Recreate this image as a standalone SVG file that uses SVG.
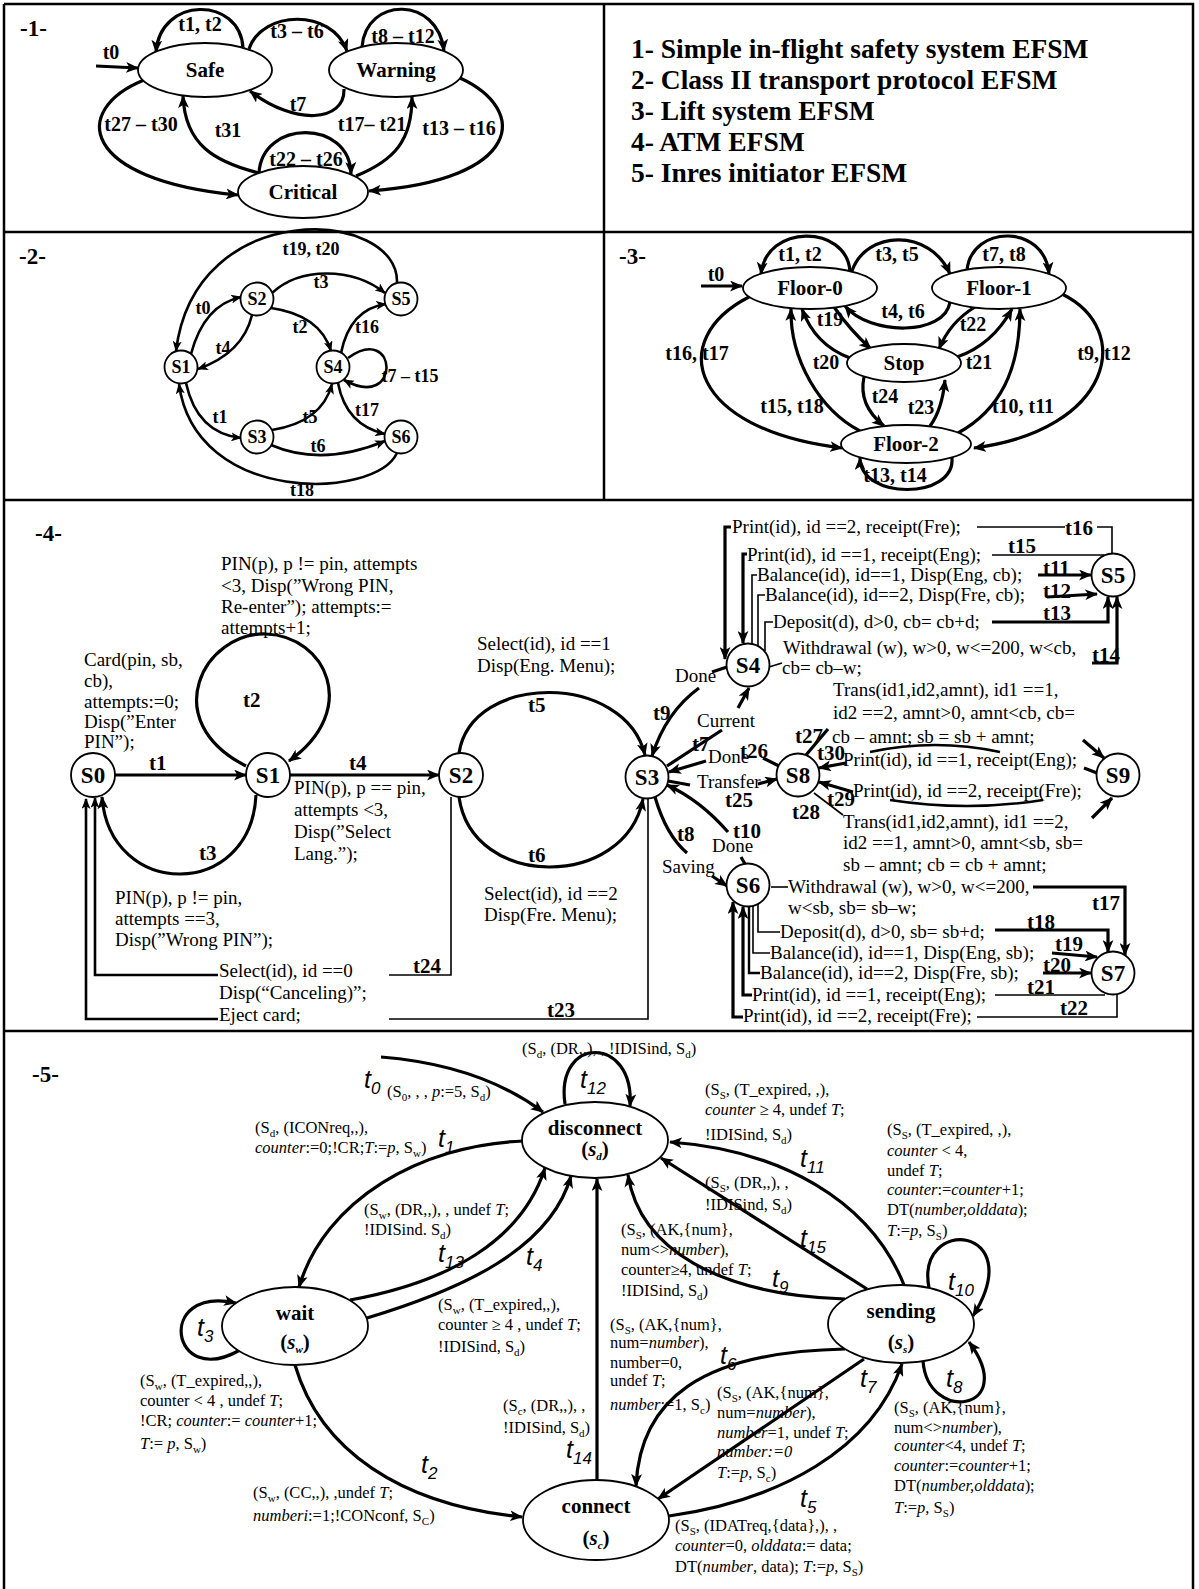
<svg xmlns="http://www.w3.org/2000/svg" width="1199" height="1589" viewBox="0 0 1199 1589">
<defs>
<marker id="a" viewBox="0 0 12 10" refX="11" refY="5" markerWidth="13" markerHeight="11" markerUnits="userSpaceOnUse" orient="auto"><path d="M0,0 L12,5 L0,10 L3,5 z"/></marker>
<marker id="a2" viewBox="0 0 12 10" refX="11" refY="5" markerWidth="11" markerHeight="9" markerUnits="userSpaceOnUse" orient="auto"><path d="M0,0 L12,5 L0,10 L3,5 z"/></marker>
</defs>
<style>
text{font-family:"Liberation Serif","Times New Roman",serif;fill:#000}
.fr{fill:none;stroke:#000;stroke-width:2.5}
.nd{fill:#fff;stroke:#000;stroke-width:1.8}
.e{fill:none;stroke:#000;stroke-width:3.2;marker-end:url(#a)}
.e2{fill:none;stroke:#000;stroke-width:2.6;marker-end:url(#a2)}
.en{fill:none;stroke:#000;stroke-width:3.2}
.th{fill:none;stroke:#000;stroke-width:1.6}
.pn{font-weight:bold;font-size:23px}
.lg{font-weight:bold;font-size:27.5px}
.nb{font-weight:bold;font-size:21px;text-anchor:middle}
.nb4{font-weight:bold;font-size:23px;text-anchor:middle}
.lb{font-weight:bold;font-size:20px;text-anchor:middle}
.l4{font-weight:bold;font-size:21px}
.l2{font-weight:bold;font-size:18px;text-anchor:middle}
.n2{font-weight:bold;font-size:18px;text-anchor:middle}
.t4{font-size:19px}
.t5{font-size:16.5px}
.ti{font-family:"Liberation Sans",Arial,sans-serif;font-style:italic;font-size:25px}
.ts{font-size:17px;baseline-shift:-6px}
.sb{font-size:11px;baseline-shift:-4px}
.i{font-style:italic}
.bi{font-style:italic}
</style>
<rect width="1199" height="1589" fill="#fff"/>
<g id="frame">
<path class="fr" d="M4,4 H1193 V1589 M4,4 V1589 M4,232 H1193 M4,500 H1193 M4,1031 H1193 M604,4 V500"/>
</g>

<!-- PANEL 1 -->
<g id="panel1-title"><text class="pn" x="20" y="36">-1-</text></g>
<g id="legend">
<text class="lg" x="631" y="58">1- Simple in-flight safety system EFSM</text>
<text class="lg" x="631" y="89">2- Class II transport protocol EFSM</text>
<text class="lg" x="631" y="120">3- Lift system EFSM</text>
<text class="lg" x="631" y="151">4- ATM EFSM</text>
<text class="lg" x="631" y="182">5- Inres initiator EFSM</text>
</g>
<g id="p1-connectors">
<path class="e" d="M96,66 L138,68"/>
<path class="e" d="M243,48 C240,-4 160,-4 156,52"/>
<path class="e" d="M249,49 C262,10 332,8 347,51"/>
<path class="e" d="M362,47 C366,-4 438,-4 444,51"/>
<path class="e" d="M344,89 C345,122 295,126 250,91"/>
<path class="e" d="M144,80 C70,110 80,180 238,195"/>
<path class="e" d="M259,173 C215,162 185,145 183,96"/>
<path class="e" d="M259,173 C262,119 350,119 351,174"/>
<path class="e" d="M356,176 C395,160 412,140 412,97"/>
<path class="e" d="M460,78 C530,110 522,180 369,191"/>
<text class="lb" x="111" y="59">t0</text>
<text class="lb" x="200" y="31">t1, t2</text>
<text class="lb" x="297" y="38">t3 – t6</text>
<text class="lb" x="403" y="43">t8 – t12</text>
<text class="lb" x="298" y="111">t7</text>
<text class="lb" x="141" y="131">t27 – t30</text>
<text class="lb" x="228" y="137">t31</text>
<text class="lb" x="306" y="166">t22 – t26</text>
<text class="lb" x="372" y="131">t17– t21</text>
<text class="lb" x="459" y="135">t13 – t16</text>
</g>
<g id="p1-safe"><ellipse class="nd" cx="205" cy="70" rx="67" ry="27"/><text class="nb" x="205" y="77">Safe</text></g>
<g id="p1-warning"><ellipse class="nd" cx="396" cy="70" rx="67" ry="27"/><text class="nb" x="396" y="77">Warning</text></g>
<g id="p1-critical"><ellipse class="nd" cx="303" cy="192" rx="65" ry="26"/><text class="nb" x="303" y="199">Critical</text></g>

<!-- PANEL 2 -->
<g id="panel2-title"><text class="pn" x="19" y="264">-2-</text></g>
<g id="p2-connectors">
<path class="e2" d="M397,283 C400,209 195,195 176,351"/>
<path class="e2" d="M272,293 C300,267 352,267 385,293"/>
<path class="e2" d="M191,354 Q204,305 241,297"/>
<path class="e2" d="M252,315 Q243,353 198,369"/>
<path class="e2" d="M271,308 Q320,315 331,351"/>
<path class="e2" d="M341,353 Q350,309 386,304"/>
<path class="e2" d="M348,358 C398,322 402,412 344,380"/>
<path class="e2" d="M186,383 Q197,433 241,438"/>
<path class="e2" d="M272,430 Q322,422 332,384"/>
<path class="e2" d="M338,383 Q346,425 385,434"/>
<path class="e2" d="M271,445 Q322,467 385,441"/>
<path class="e2" d="M397,453 C375,500 195,505 179,384"/>
<text class="l2" x="311" y="255">t19, t20</text>
<text class="l2" x="321" y="288">t3</text>
<text class="l2" x="203" y="314">t0</text>
<text class="l2" x="223" y="354">t4</text>
<text class="l2" x="300" y="333">t2</text>
<text class="l2" x="367" y="333">t16</text>
<text class="l2" x="410" y="382">t7 – t15</text>
<text class="l2" x="220" y="423">t1</text>
<text class="l2" x="310" y="423">t5</text>
<text class="l2" x="367" y="416">t17</text>
<text class="l2" x="318" y="452">t6</text>
<text class="l2" x="302" y="496">t18</text>
</g>
<g id="p2-S1"><circle class="nd" cx="181" cy="367" r="16.5"/><text class="n2" x="181" y="373">S1</text></g>
<g id="p2-S2"><circle class="nd" cx="257" cy="299" r="16.5"/><text class="n2" x="257" y="305">S2</text></g>
<g id="p2-S3"><circle class="nd" cx="257" cy="437" r="16.5"/><text class="n2" x="257" y="443">S3</text></g>
<g id="p2-S4"><circle class="nd" cx="333" cy="367" r="16.5"/><text class="n2" x="333" y="373">S4</text></g>
<g id="p2-S5"><circle class="nd" cx="401" cy="299" r="16.5"/><text class="n2" x="401" y="305">S5</text></g>
<g id="p2-S6"><circle class="nd" cx="401" cy="437" r="16.5"/><text class="n2" x="401" y="443">S6</text></g>

<!-- PANEL 3 -->
<g id="panel3-title"><text class="pn" x="619" y="264">-3-</text></g>
<g id="p3-connectors">
<path class="e" d="M701,286 L742,286"/>
<path class="e" d="M850,271 C846,224 766,224 761,274"/>
<path class="e" d="M852,271 C866,230 930,228 950,274"/>
<path class="e" d="M967,270 C972,224 1045,224 1049,274"/>
<path class="e" d="M950,302 C945,336 870,336 845,306"/>
<path class="e" d="M834,307 Q850,330 871,349"/>
<path class="e" d="M850,358 Q815,345 802,309"/>
<path class="e" d="M860,431 C820,410 790,360 791,309"/>
<path class="e" d="M975,307 Q950,322 939,349"/>
<path class="e" d="M957,357 Q992,345 1012,309"/>
<path class="e" d="M958,433 C1000,410 1020,370 1020,309"/>
<path class="e" d="M749,297 C665,340 690,430 842,448"/>
<path class="e" d="M1062,294 C1135,330 1112,430 974,448"/>
<path class="e" d="M864,377 Q858,405 884,426"/>
<path class="e" d="M930,426 Q942,410 945,380"/>
<path class="e" d="M952,458 C955,500 860,500 860,458"/>
<text class="lb" x="716" y="281">t0</text>
<text class="lb" x="800" y="261">t1, t2</text>
<text class="lb" x="897" y="261">t3, t5</text>
<text class="lb" x="1004" y="261">t7, t8</text>
<text class="lb" x="903" y="318">t4, t6</text>
<text class="lb" x="830" y="326">t19</text>
<text class="lb" x="826" y="369">t20</text>
<text class="lb" x="792" y="413">t15, t18</text>
<text class="lb" x="973" y="331">t22</text>
<text class="lb" x="979" y="369">t21</text>
<text class="lb" x="1023" y="413">t10, t11</text>
<text class="lb" x="697" y="360">t16, t17</text>
<text class="lb" x="1104" y="360">t9, t12</text>
<text class="lb" x="885" y="403">t24</text>
<text class="lb" x="921" y="414">t23</text>
<text class="lb" x="895" y="482">t13, t14</text>
</g>
<g id="p3-floor0"><ellipse class="nd" cx="810" cy="288" rx="67" ry="21"/><text class="nb" x="810" y="295">Floor-0</text></g>
<g id="p3-floor1"><ellipse class="nd" cx="999" cy="288" rx="67" ry="21"/><text class="nb" x="999" y="295">Floor-1</text></g>
<g id="p3-stop"><ellipse class="nd" cx="904" cy="363" rx="57" ry="19"/><text class="nb" x="904" y="370">Stop</text></g>
<g id="p3-floor2"><ellipse class="nd" cx="906" cy="444" rx="65" ry="19"/><text class="nb" x="906" y="451">Floor-2</text></g>

<!-- PANEL 4 -->
<g id="panel4-title"><text class="pn" x="35" y="541">-4-</text></g>
<g id="p4-connectors">
<path class="e" d="M115,775 L246,775"/>
<path class="e" d="M246,766 C156,720 205,632 266,634 C326,636 361,710 289,761"/>
<path class="e" d="M256,795 C251,900 110,900 102,797"/>
<path class="e" d="M290,775 L439,775"/>
<path class="e" d="M459,753 C472,672 625,672 645,755"/>
<path class="e" d="M459,797 C472,890 625,890 643,799"/>
<path class="th" d="M451,797 V975 H389"/>
<path class="th" d="M648,799 V1019 H389"/>
<path class="e2" d="M218,975 H95 V798"/>
<path class="e2" d="M218,1019 H86 V799"/>
<!-- S3 area -->
<path class="en" d="M712,672 L727,667"/>
<path class="e" d="M699,688 Q666,712 652,756"/>
<path class="en" d="M667,766 L722,730"/>
<path class="e" d="M738,708 L749,688"/>
<path class="en" d="M763,758 L779,766"/>
<path class="e" d="M706,761 L669,772"/>
<path class="en" d="M668,781 L690,785"/>
<path class="e" d="M758,784 L777,779"/>
<path class="e" d="M728,832 Q700,800 667,785"/>
<path class="en" d="M741,857 L745,864"/>
<path class="en" d="M655,797 Q666,835 687,853"/>
<path class="e" d="M712,876 L727,886"/>
<!-- S4 / S5 -->
<path class="e" d="M731,527 H725 V659"/>
<path class="th" d="M977,527 H1065 M1097,527 H1112 V554"/>
<path class="e" d="M747,554 H743 V643"/>
<path class="th" d="M992,555 H1104"/>
<path class="th" d="M757,575 H752 V644"/>
<path class="e" d="M1038,575 H1091"/>
<path class="th" d="M765,595 H758 V646"/>
<path class="e" d="M1047,597 L1097,594"/>
<path class="th" d="M773,622 H765 V651"/>
<path class="e" d="M992,622 H1108 V597"/>
<path class="th" d="M769,667 L782,663"/>
<path class="e" d="M1092,663 H1117 V597"/>
<!-- S8 / S9 -->
<path class="en" d="M806,755 L828,729"/>
<path class="e" d="M1083,740 L1104,758"/>
<path class="th" d="M814,793 L843,815"/>
<path class="e" d="M1092,818 L1112,798"/>
<path class="e" d="M853,792 L819,782"/>
<path class="th" style="stroke-width:2.4" d="M890,800 Q967,812 1043,800"/>
<path class="e" d="M846,763 L819,768"/>
<path class="th" style="stroke-width:2.4" d="M870,752 Q935,738 1000,752"/>
<path class="en" d="M1097,773 L1084,768"/>
<!-- S6 / S7 -->
<path class="th" d="M771,887 H788"/>
<path class="e" d="M1033,887 H1125 V955"/>
<path class="th" d="M758,904 V932 H780"/>
<path class="e" d="M995,930 H1108 V952"/>
<path class="th" d="M753,906 V953 H770"/>
<path class="e" d="M1052,953 L1097,957"/>
<path class="th" style="stroke-width:2.4" d="M749,907 V973 H760"/>
<path class="e" d="M1043,973 H1091"/>
<path class="e" d="M752,995 H743 V907"/>
<path class="th" d="M995,995 H1105"/>
<path class="e" d="M743,1017 H733 V902"/>
<path class="th" d="M977,1017 H1117 V995"/>
<!-- edge labels -->
<text class="l4" x="149" y="770">t1</text>
<text class="l4" x="243" y="707">t2</text>
<text class="l4" x="199" y="860">t3</text>
<text class="l4" x="349" y="770">t4</text>
<text class="l4" x="528" y="712">t5</text>
<text class="l4" x="528" y="862">t6</text>
<text class="l4" x="413" y="973">t24</text>
<text class="l4" x="547" y="1017">t23</text>
<text class="l4" x="653" y="720">t9</text>
<text class="l4" x="692" y="751">t7</text>
<text class="l4" x="677" y="841">t8</text>
<text class="l4" x="733" y="838">t10</text>
<text class="l4" x="740" y="758">t26</text>
<text class="l4" x="725" y="807">t25</text>
<text class="l4" x="1065" y="535">t16</text>
<text class="l4" x="1008" y="553">t15</text>
<text class="l4" x="1043" y="575">t11</text>
<text class="l4" x="1043" y="598">t12</text>
<text class="l4" x="1043" y="620">t13</text>
<text class="l4" x="1092" y="662">t14</text>
<text class="l4" x="795" y="743">t27</text>
<text class="l4" x="817" y="760">t30</text>
<text class="l4" x="827" y="806">t29</text>
<text class="l4" x="792" y="819">t28</text>
<text class="l4" x="1092" y="910">t17</text>
<text class="l4" x="1027" y="929">t18</text>
<text class="l4" x="1055" y="951">t19</text>
<text class="l4" x="1043" y="972">t20</text>
<text class="l4" x="1027" y="994">t21</text>
<text class="l4" x="1060" y="1015">t22</text>
</g>
<g id="p4-texts">
<text class="t4"><tspan x="221" y="570">PIN(p), p != pin, attempts</tspan><tspan x="221" y="592">&lt;3, Disp(”Wrong PIN,</tspan><tspan x="221" y="613">Re-enter”); attempts:=</tspan><tspan x="221" y="634">attempts+1;</tspan></text>
<text class="t4"><tspan x="84" y="666">Card(pin, sb,</tspan><tspan x="84" y="687">cb),</tspan><tspan x="84" y="708">attempts:=0;</tspan><tspan x="84" y="728">Disp(”Enter</tspan><tspan x="84" y="748">PIN”);</tspan></text>
<text class="t4"><tspan x="294" y="794">PIN(p), p == pin,</tspan><tspan x="294" y="816">attempts &lt;3,</tspan><tspan x="294" y="838">Disp(”Select</tspan><tspan x="294" y="860">Lang.”);</tspan></text>
<text class="t4"><tspan x="115" y="904">PIN(p), p != pin,</tspan><tspan x="115" y="925">attempts ==3,</tspan><tspan x="115" y="946">Disp(”Wrong PIN”);</tspan></text>
<text class="t4"><tspan x="219" y="977">Select(id), id ==0</tspan><tspan x="219" y="999">Disp(“Canceling)”;</tspan><tspan x="219" y="1021">Eject card;</tspan></text>
<text class="t4"><tspan x="477" y="650">Select(id), id ==1</tspan><tspan x="477" y="672">Disp(Eng. Menu);</tspan></text>
<text class="t4"><tspan x="484" y="900">Select(id), id ==2</tspan><tspan x="484" y="921">Disp(Fre. Menu);</tspan></text>
<text class="t4" x="675" y="682">Done</text>
<text class="t4" x="697" y="727">Current</text>
<text class="t4" x="708" y="763">Done</text>
<text class="t4" x="697" y="788">Transfer</text>
<text class="t4" x="712" y="852">Done</text>
<text class="t4" x="662" y="873">Saving</text>
<text class="t4" x="732" y="533">Print(id), id ==2, receipt(Fre);</text>
<text class="t4" x="747" y="561">Print(id), id ==1, receipt(Eng);</text>
<text class="t4" x="757" y="581">Balance(id), id==1, Disp(Eng, cb);</text>
<text class="t4" x="765" y="601">Balance(id), id==2, Disp(Fre, cb);</text>
<text class="t4" x="773" y="628">Deposit(d), d&gt;0, cb= cb+d;</text>
<text class="t4" x="783" y="654">Withdrawal (w), w&gt;0, w&lt;=200, w&lt;cb,</text>
<text class="t4" x="782" y="674">cb= cb–w;</text>
<text class="t4"><tspan x="833" y="696">Trans(id1,id2,amnt), id1 ==1,</tspan><tspan x="833" y="719">id2 ==2, amnt&gt;0, amnt&lt;cb, cb=</tspan><tspan x="832" y="743">cb – amnt; sb = sb + amnt;</tspan></text>
<text class="t4" x="843" y="766">Print(id), id ==1, receipt(Eng);</text>
<text class="t4" x="853" y="797">Print(id), id ==2, receipt(Fre);</text>
<text class="t4"><tspan x="843" y="828">Trans(id1,id2,amnt), id1 ==2,</tspan><tspan x="843" y="849">id2 ==1, amnt&gt;0, amnt&lt;sb, sb=</tspan><tspan x="843" y="871">sb – amnt; cb = cb + amnt;</tspan></text>
<text class="t4"><tspan x="788" y="893">Withdrawal (w), w&gt;0, w&lt;=200,</tspan><tspan x="788" y="914">w&lt;sb, sb= sb–w;</tspan></text>
<text class="t4" x="780" y="938">Deposit(d), d&gt;0, sb= sb+d;</text>
<text class="t4" x="770" y="959">Balance(id), id==1, Disp(Eng, sb);</text>
<text class="t4" x="760" y="979">Balance(id), id==2, Disp(Fre, sb);</text>
<text class="t4" x="752" y="1001">Print(id), id ==1, receipt(Eng);</text>
<text class="t4" x="743" y="1022">Print(id), id ==2, receipt(Fre);</text>
</g>
<g id="p4-S0"><circle class="nd" cx="93" cy="775" r="22"/><text class="nb4" x="93" y="783">S0</text></g>
<g id="p4-S1"><circle class="nd" cx="268" cy="775" r="22"/><text class="nb4" x="268" y="783">S1</text></g>
<g id="p4-S2"><circle class="nd" cx="461" cy="775" r="22"/><text class="nb4" x="461" y="783">S2</text></g>
<g id="p4-S3"><circle class="nd" cx="647" cy="777" r="21.5"/><text class="nb4" x="647" y="785">S3</text></g>
<g id="p4-S4"><circle class="nd" cx="748" cy="665" r="21.5"/><text class="nb4" x="748" y="673">S4</text></g>
<g id="p4-S5"><circle class="nd" cx="1113" cy="575" r="21.5"/><text class="nb4" x="1113" y="583">S5</text></g>
<g id="p4-S8"><circle class="nd" cx="798" cy="775" r="21.5"/><text class="nb4" x="798" y="783">S8</text></g>
<g id="p4-S9"><circle class="nd" cx="1118" cy="775" r="21.5"/><text class="nb4" x="1118" y="783">S9</text></g>
<g id="p4-S6"><circle class="nd" cx="748" cy="885" r="21.5"/><text class="nb4" x="748" y="893">S6</text></g>
<g id="p4-S7"><circle class="nd" cx="1113" cy="973" r="21.5"/><text class="nb4" x="1113" y="981">S7</text></g>

<!-- PANEL 5 -->
<g id="panel5-title"><text class="pn" x="32" y="1082">-5-</text></g>
<g id="p5-connectors">
<path class="e" d="M381,1057 Q480,1065 543,1112"/>
<path class="e" d="M565,1104 C555,1035 635,1035 630,1106"/>
<path class="e" d="M523,1141 C420,1145 325,1200 299,1287"/>
<path class="e" d="M350,1300 C450,1282 522,1240 545,1168"/>
<path class="e" d="M367,1318 C460,1290 550,1250 571,1176"/>
<path class="e" d="M240,1350 C170,1390 155,1285 236,1303"/>
<path class="e" d="M295,1365 C320,1450 400,1505 522,1517"/>
<path class="e" d="M597,1480 L597,1179"/>
<path class="e" d="M904,1285 C870,1200 780,1150 670,1142"/>
<path class="e" d="M867,1289 L661,1158"/>
<path class="e" d="M845,1299 C720,1295 640,1250 628,1175"/>
<path class="e" d="M929,1288 C915,1215 1030,1225 973,1316"/>
<path class="e" d="M923,1361 C928,1425 1020,1410 969,1342"/>
<path class="e" d="M845,1349 C700,1352 640,1400 636,1486"/>
<path class="e" d="M864,1359 L658,1499"/>
<path class="e" d="M669,1516 C780,1500 872,1450 902,1364"/>
<text class="ti" x="364" y="1088">t<tspan class="ts">0</tspan></text>
<text class="ti" x="580" y="1088">t<tspan class="ts">12</tspan></text>
<text class="ti" x="438" y="1147">t<tspan class="ts">1</tspan></text>
<text class="ti" x="438" y="1262">t<tspan class="ts">13</tspan></text>
<text class="ti" x="526" y="1265">t<tspan class="ts">4</tspan></text>
<text class="ti" x="197" y="1336">t<tspan class="ts">3</tspan></text>
<text class="ti" x="421" y="1473">t<tspan class="ts">2</tspan></text>
<text class="ti" x="566" y="1458">t<tspan class="ts">14</tspan></text>
<text class="ti" x="800" y="1167">t<tspan class="ts">11</tspan></text>
<text class="ti" x="800" y="1247">t<tspan class="ts">15</tspan></text>
<text class="ti" x="772" y="1287">t<tspan class="ts">9</tspan></text>
<text class="ti" x="948" y="1290">t<tspan class="ts">10</tspan></text>
<text class="ti" x="720" y="1364">t<tspan class="ts">6</tspan></text>
<text class="ti" x="860" y="1387">t<tspan class="ts">7</tspan></text>
<text class="ti" x="946" y="1387">t<tspan class="ts">8</tspan></text>
<text class="ti" x="800" y="1507">t<tspan class="ts">5</tspan></text>
</g>
<g id="p5-texts">
<text class="t5" x="522" y="1054">(S<tspan class="sb">d</tspan>, (DR,,), , !IDISind, S<tspan class="sb">d</tspan>)</text>
<text class="t5" x="387" y="1097">(S<tspan class="sb">0</tspan>, , , <tspan class="i">p</tspan>:=5, S<tspan class="sb">d</tspan>)</text>
<text class="t5" x="255" y="1133">(S<tspan class="sb">d</tspan>, (ICONreq,,),</text>
<text class="t5" x="255" y="1153"><tspan class="i">counter</tspan>:=0;!CR;<tspan class="i">T</tspan>:=<tspan class="i">p</tspan>, S<tspan class="sb">w</tspan>)</text>
<text class="t5" x="364" y="1215">(S<tspan class="sb">w</tspan>, (DR,,), , undef <tspan class="i">T</tspan>;</text>
<text class="t5" x="364" y="1235">!IDISind. S<tspan class="sb">d</tspan>)</text>
<text class="t5" x="438" y="1310">(S<tspan class="sb">w</tspan>, (T_expired,,),</text>
<text class="t5" x="438" y="1330">counter ≥ 4 , undef <tspan class="i">T</tspan>;</text>
<text class="t5" x="438" y="1352">!IDISind, S<tspan class="sb">d</tspan>)</text>
<text class="t5" x="140" y="1386">(S<tspan class="sb">w</tspan>, (T_expired,,),</text>
<text class="t5" x="140" y="1406">counter &lt; 4 , undef <tspan class="i">T</tspan>;</text>
<text class="t5" x="140" y="1426">!CR; <tspan class="i">counter</tspan>:= <tspan class="i">counter</tspan>+1;</text>
<text class="t5" x="140" y="1449"><tspan class="i">T</tspan>:= <tspan class="i">p</tspan>, S<tspan class="sb">w</tspan>)</text>
<text class="t5" x="253" y="1498">(S<tspan class="sb">w</tspan>, (CC,,), ,undef <tspan class="i">T</tspan>;</text>
<text class="t5" x="253" y="1521"><tspan class="i">numberi</tspan>:=1;!CONconf, S<tspan class="sb">C</tspan>)</text>
<text class="t5" x="503" y="1411">(S<tspan class="sb">c</tspan>, (DR,,), ,</text>
<text class="t5" x="503" y="1433">!IDISind, S<tspan class="sb">d</tspan>)</text>
<text class="t5" x="705" y="1095">(S<tspan class="sb">S</tspan>, (T_expired, ,),</text>
<text class="t5" x="705" y="1115"><tspan class="i">counter</tspan> ≥ 4, undef <tspan class="i">T</tspan>;</text>
<text class="t5" x="705" y="1140">!IDISind, S<tspan class="sb">d</tspan>)</text>
<text class="t5" x="705" y="1188">(S<tspan class="sb">S</tspan>, (DR,,), ,</text>
<text class="t5" x="705" y="1210">!IDISind, S<tspan class="sb">d</tspan>)</text>
<text class="t5" x="621" y="1235">(S<tspan class="sb">S</tspan>, (AK,{num},</text>
<text class="t5" x="621" y="1255">num&lt;&gt;<tspan class="i">number</tspan>),</text>
<text class="t5" x="621" y="1275">counter≥4, undef <tspan class="i">T</tspan>;</text>
<text class="t5" x="621" y="1296">!IDISind, S<tspan class="sb">d</tspan>)</text>
<text class="t5" x="887" y="1135">(S<tspan class="sb">S</tspan>, (T_expired, ,),</text>
<text class="t5" x="887" y="1156"><tspan class="i">counter</tspan> &lt; 4,</text>
<text class="t5" x="887" y="1176">undef <tspan class="i">T</tspan>;</text>
<text class="t5" x="887" y="1195"><tspan class="i">counter</tspan>:=<tspan class="i">counter</tspan>+1;</text>
<text class="t5" x="887" y="1215">DT(<tspan class="i">number,olddata</tspan>);</text>
<text class="t5" x="887" y="1236"><tspan class="i">T</tspan>:=<tspan class="i">p</tspan>, S<tspan class="sb">S</tspan>)</text>
<text class="t5" x="894" y="1413">(S<tspan class="sb">S</tspan>, (AK,{num},</text>
<text class="t5" x="894" y="1433">num&lt;&gt;<tspan class="i">number</tspan>),</text>
<text class="t5" x="894" y="1451"><tspan class="i">counter</tspan>&lt;4, undef <tspan class="i">T</tspan>;</text>
<text class="t5" x="894" y="1471"><tspan class="i">counter</tspan>:=<tspan class="i">counter</tspan>+1;</text>
<text class="t5" x="894" y="1491">DT(<tspan class="i">number,olddata</tspan>);</text>
<text class="t5" x="894" y="1513"><tspan class="i">T</tspan>:=<tspan class="i">p</tspan>, S<tspan class="sb">S</tspan>)</text>
<text class="t5" x="610" y="1330">(S<tspan class="sb">S</tspan>, (AK,{num},</text>
<text class="t5" x="610" y="1348">num=<tspan class="i">number</tspan>),</text>
<text class="t5" x="610" y="1368">number=0,</text>
<text class="t5" x="610" y="1386">undef <tspan class="i">T</tspan>;</text>
<text class="t5" x="610" y="1410"><tspan class="i">number</tspan>:=1, S<tspan class="sb">c</tspan>)</text>
<text class="t5" x="717" y="1398">(S<tspan class="sb">S</tspan>, (AK,{num},</text>
<text class="t5" x="717" y="1418">num=<tspan class="i">number</tspan>),</text>
<text class="t5" x="717" y="1438"><tspan class="i">number</tspan>=1, undef <tspan class="i">T</tspan>;</text>
<text class="t5" x="717" y="1457"><tspan class="i">number:=0</tspan></text>
<text class="t5" x="717" y="1478"><tspan class="i">T</tspan>:=<tspan class="i">p</tspan>, S<tspan class="sb">c</tspan>)</text>
<text class="t5" x="675" y="1531">(S<tspan class="sb">S</tspan>, (IDATreq,{data},), ,</text>
<text class="t5" x="675" y="1551"><tspan class="i">counter</tspan>=0, <tspan class="i">olddata</tspan>:= data;</text>
<text class="t5" x="675" y="1572">DT(<tspan class="i">number</tspan>, data); <tspan class="i">T</tspan>:=<tspan class="i">p</tspan>, S<tspan class="sb">S</tspan>)</text>
</g>
<g id="p5-disconnect"><ellipse class="nd" cx="595" cy="1140" rx="73" ry="38"/><text class="nb" x="595" y="1135">disconnect</text><text class="nb" x="595" y="1156">(<tspan class="bi">s</tspan><tspan class="sb bi">d</tspan>)</text></g>
<g id="p5-wait"><ellipse class="nd" cx="295" cy="1326" rx="73" ry="39"/><text class="nb" x="295" y="1320">wait</text><text class="nb" x="295" y="1349">(<tspan class="bi">s</tspan><tspan class="sb bi">w</tspan>)</text></g>
<g id="p5-sending"><ellipse class="nd" cx="901" cy="1324" rx="73" ry="39"/><text class="nb" x="901" y="1318">sending</text><text class="nb" x="901" y="1349">(<tspan class="bi">s</tspan><tspan class="sb bi">s</tspan>)</text></g>
<g id="p5-connect"><ellipse class="nd" cx="596" cy="1520" rx="73" ry="40"/><text class="nb" x="596" y="1513">connect</text><text class="nb" x="596" y="1545">(<tspan class="bi">s</tspan><tspan class="sb bi">c</tspan>)</text></g>
</svg>
